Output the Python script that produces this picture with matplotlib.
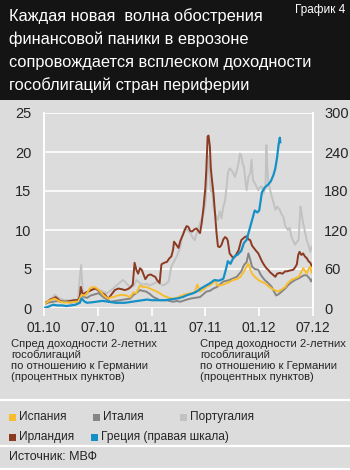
import matplotlib
matplotlib.use("Agg")
import matplotlib.pyplot as plt
from matplotlib.patches import Rectangle
from matplotlib.lines import Line2D

plt.rcParams['font.family'] = ['Liberation Sans', 'DejaVu Sans']

# months counted from January 2010
spain_m = [0, 0.4, 0.7, 1.2, 1.5, 1.8, 2.3, 2.9, 3.4, 3.8, 4.0, 4.2, 4.5, 4.8, 5.1, 5.5, 5.8, 6.1, 6.4, 6.6,
           6.9, 7.2, 7.5, 7.7, 8.2, 8.7, 9.2, 9.6, 10.0, 10.3, 10.7, 11.0, 11.4, 11.8, 12.2, 12.6, 12.9, 13.3,
           13.7, 14.0, 14.4, 14.8, 15.2, 15.6, 16.0, 16.3, 16.8, 17.1, 17.4, 17.8, 18.2, 18.5, 18.8, 19.1, 19.3,
           19.6, 20.0, 20.4, 20.8, 21.1, 21.5, 21.9, 22.2, 22.4, 22.6, 22.8, 23.0, 23.2, 23.5, 23.9, 24.2, 24.6,
           25.0, 25.4, 25.7, 26.1, 26.4, 26.9, 27.2, 27.6, 28.0, 28.4, 28.7, 28.9, 29.1, 29.3, 29.5, 29.7, 29.85, 30.0]
spain_v = [0.5, 0.8, 1.0, 1.2, 1.0, 0.8, 0.7, 0.7, 0.8, 0.8, 1.2, 1.7, 1.6, 1.9, 2.5, 2.7, 2.6, 2.3, 2.0, 1.7,
           1.4, 1.2, 1.4, 1.4, 1.6, 1.7, 1.6, 1.4, 2.0, 1.9, 2.9, 2.7, 2.7, 2.5, 2.3, 2.1, 1.9, 1.6,
           1.4, 1.3, 1.2, 1.3, 1.5, 1.7, 1.8, 1.9, 2.0, 3.0, 2.1, 2.4, 2.8, 2.9, 3.2, 3.6, 2.9,
           2.9, 3.0, 3.2, 3.4, 3.6, 3.7, 4.0, 4.5, 4.9, 5.3, 5.7, 5.0, 4.4, 4.0, 3.6, 3.4, 3.2,
           2.8, 2.5, 2.3, 2.1, 2.3, 2.7, 3.2, 3.6, 3.8, 4.0, 4.6, 5.1, 4.8, 4.4, 5.0, 5.3, 4.5, 4.7]

italy_m = [0, 0.5, 1.0, 1.5, 2.0, 2.5, 3.0, 3.5, 3.8, 4.0, 4.2, 4.5, 4.8, 5.2, 5.5, 5.8, 6.1, 6.4, 6.6, 7.0,
           7.4, 7.9, 8.5, 9.0, 9.6, 10.0, 10.3, 10.7, 11.0, 11.4, 11.8, 12.2, 12.6, 12.9, 13.3, 13.7, 14.0,
           14.4, 14.8, 15.2, 15.7, 16.3, 16.8, 17.4, 17.8, 18.1, 18.5, 18.9, 19.3, 19.6, 20.0, 20.4, 20.7,
           21.1, 21.5, 22.0, 22.3, 22.6, 22.8, 23.0, 23.2, 23.5, 23.9, 24.2, 24.6, 25.0, 25.4, 25.7, 25.9,
           26.2, 26.5, 26.9, 27.2, 27.6, 28.0, 28.4, 28.7, 29.0, 29.3, 29.6, 29.8, 30.0]
italy_v = [0.5, 0.7, 0.8, 0.9, 0.8, 0.8, 0.7, 0.8, 0.8, 1.2, 1.7, 1.4, 1.3, 1.6, 1.7, 1.8, 1.9, 1.6, 1.4, 1.1,
           0.8, 0.9, 1.0, 1.1, 1.2, 1.7, 1.9, 2.3, 2.2, 2.1, 1.8, 1.4, 1.2, 1.0, 1.0, 1.0, 0.9,
           0.8, 0.9, 0.8, 1.0, 1.2, 1.3, 1.4, 1.8, 2.1, 2.2, 2.5, 2.7, 3.0, 3.4, 3.5, 3.6,
           3.8, 4.0, 4.7, 5.5, 5.9, 7.0, 6.2, 5.3, 5.0, 4.9, 4.2, 3.6, 3.2, 2.7, 2.0, 1.6,
           1.8, 2.1, 2.5, 2.9, 3.3, 3.6, 3.8, 4.0, 4.2, 4.2, 3.8, 3.4, 3.9]

portugal_m = [0, 0.5, 1.0, 1.2, 1.5, 1.8, 2.3, 2.9, 3.4, 3.8, 4.0, 4.15, 4.3, 4.5, 4.8, 5.1, 5.5, 5.8, 6.2,
              6.6, 7.0, 7.4, 7.7, 8.1, 8.5, 8.8, 9.0, 9.3, 9.6, 10.0, 10.3, 10.7, 11.0, 11.4, 11.8, 12.2,
              12.6, 12.9, 13.3, 13.6, 13.9, 14.2, 14.6, 14.8, 15.0, 15.2, 15.4, 15.7, 16.0, 16.3, 16.6,
              16.8, 17.1, 17.4, 17.8, 18.0, 18.1, 18.3, 18.45, 18.6, 18.7, 18.9, 19.1, 19.4, 19.6, 19.8,
              20.0, 20.2, 20.4, 20.5, 20.7, 20.9, 21.1, 21.3, 21.5, 21.7, 21.85, 22.0, 22.15, 22.3, 22.45,
              22.6, 22.8, 23.0, 23.15, 23.3, 23.6, 23.9, 24.1, 24.3, 24.5, 24.7, 24.8, 24.9, 25.0, 25.2,
              25.4, 25.6, 25.8, 26.0, 26.3, 26.5, 26.7, 26.9, 27.2, 27.4, 27.6, 27.8, 28.0, 28.2, 28.4,
              28.5, 28.6, 28.75, 28.9, 29.1, 29.3, 29.5, 29.7, 29.85, 30.0]
portugal_v = [0.6, 0.9, 1.4, 1.7, 1.4, 1.2, 1.0, 1.0, 1.1, 1.0, 4.0, 5.5, 2.3, 2.0, 1.7, 2.2, 2.7, 2.5, 2.3,
              2.1, 1.9, 2.2, 2.5, 2.9, 3.3, 3.6, 3.4, 3.0, 2.7, 2.8, 3.6, 3.2, 3.0, 3.1, 2.9, 3.1,
              3.4, 3.1, 2.9, 3.1, 3.4, 5.3, 6.2, 6.6, 7.2, 7.8, 9.1, 10.2, 10.0, 9.6, 9.0,
              8.7, 9.8, 10.9, 12.1, 13.5, 15.1, 19.5, 17.5, 15.0, 16.4, 13.0, 12.0, 11.3, 12.4, 11.5,
              13.0, 13.8, 16.0, 17.3, 17.9, 17.7, 17.3, 16.8, 17.6, 18.6, 19.8, 19.6, 18.5, 18.1, 16.5,
              15.1, 16.8, 17.3, 19.0, 16.4, 15.8, 15.1, 15.5, 15.6, 14.7, 15.5, 20.9, 18.0, 16.4, 15.2,
              14.3, 13.5, 12.6, 13.0, 12.6, 12.0, 11.7, 10.5, 10.0, 10.3, 9.1, 8.6, 8.1, 8.5, 8.7,
              11.0, 13.0, 12.0, 10.9, 9.8, 8.7, 8.0, 7.2, 7.9, 7.7]

ireland_m = [0, 0.4, 0.7, 1.0, 1.3, 1.6, 1.8, 2.3, 2.9, 3.4, 3.8, 4.0, 4.1, 4.25, 4.4, 4.7, 4.9, 5.3, 5.7,
             6.0, 6.2, 6.5, 6.8, 7.0, 7.2, 7.5, 7.9, 8.3, 8.7, 9.0, 9.3, 9.6, 9.9, 10.1, 10.3, 10.5, 10.7,
             10.9, 11.1, 11.3, 11.6, 11.9, 12.2, 12.4, 12.6, 12.9, 13.0, 13.1, 13.4, 13.7, 14.0, 14.2, 14.4,
             14.5, 14.7, 15.0, 15.2, 15.5, 15.7, 15.9, 16.1, 16.3, 16.5, 16.8, 17.0, 17.2, 17.4, 17.6, 17.8,
             18.0, 18.1, 18.25, 18.35, 18.5, 18.6, 18.7, 18.9, 19.1, 19.25, 19.4, 19.6, 19.8, 20.0, 20.2,
             20.4, 20.5, 20.7, 20.9, 21.1, 21.3, 21.5, 21.7, 21.9, 22.0, 22.2, 22.4, 22.6, 22.8, 23.0,
             23.2, 23.4, 23.6, 23.9, 24.1, 24.3, 24.5, 24.8, 25.0, 25.2, 25.5, 25.8, 26.0, 26.3, 26.6,
             26.9, 27.1, 27.4, 27.8, 28.0, 28.2, 28.35, 28.5, 28.7, 28.9, 29.1, 29.3, 29.5, 29.7, 29.85]
ireland_v = [0.6, 0.8, 1.1, 1.2, 1.4, 1.1, 0.9, 0.8, 0.9, 1.0, 1.0, 1.5, 2.7, 2.0, 1.7, 2.0, 2.1, 2.3, 2.5,
             2.3, 2.1, 1.9, 1.7, 1.4, 1.2, 1.7, 2.3, 2.5, 2.4, 2.3, 2.4, 2.6, 3.0, 5.8, 4.9, 4.4, 5.1,
             4.9, 4.3, 3.7, 4.2, 4.3, 4.1, 4.0, 3.6, 3.2, 4.5, 5.6, 5.8, 5.9, 6.4, 6.6, 7.5,
             8.5, 8.2, 7.7, 8.6, 9.4, 10.0, 10.5, 10.4, 9.9, 9.8, 10.1, 10.2, 9.9, 9.6, 11.0, 13.0,
             15.5, 17.7, 22.0, 22.1, 20.7, 18.0, 16.8, 14.7, 11.7, 9.5, 7.9, 7.8, 8.1, 8.8, 9.1,
             8.9, 8.6, 7.0, 6.7, 6.4, 6.6, 7.0, 7.4, 8.3, 8.7, 8.9, 9.1, 9.2, 8.8, 8.7,
             8.0, 7.7, 7.4, 7.0, 6.5, 6.0, 5.6, 5.1, 4.9, 4.6, 4.3, 4.0, 4.4, 4.5, 4.4,
             4.7, 4.7, 4.8, 4.9, 5.2, 5.6, 6.8, 7.2, 6.8, 7.0, 6.6, 6.4, 6.0, 5.8, 5.4]

# Greece is plotted against the right-hand scale
greece_m = [0, 0.5, 1.0, 1.5, 2.0, 2.5, 3.0, 3.5, 4.0, 4.2, 4.5, 4.8, 5.5, 6.0, 6.5, 7.0, 7.5, 8.0, 8.5, 9.0,
            9.5, 10.0, 10.5, 11.0, 11.5, 12.0, 12.5, 13.0, 13.5, 14.0, 14.5, 15.0, 15.5, 16.0, 16.5, 17.0,
            17.5, 18.0, 18.5, 19.0, 19.5, 20.0, 20.3, 20.5, 20.8, 21.0, 21.3, 21.6, 22.0, 22.3, 22.6, 23.0,
            23.3, 23.5, 23.8, 24.0, 24.3, 24.6, 25.0, 25.3, 25.6, 25.8, 26.0, 26.15, 26.3, 26.35]
greece_v = [0, 2, 5, 4, 4, 3, 4, 5, 8, 15, 10, 8, 9, 10, 11, 10, 9, 8, 8, 8,
            9, 10, 11, 12, 13, 12, 12, 12, 12, 13, 14, 15, 17, 20, 22, 25,
            30, 34, 38, 43, 42, 45, 60, 72, 68, 74, 80, 82, 88, 100, 105, 125,
            140, 150, 147, 150, 178, 185, 190, 195, 205, 215, 232, 250, 262, 255]

left_ticks = [0, 5, 10, 15, 20, 25]
right_ticks = [0, 60, 120, 180, 240, 300]
x_ticks = [0, 6, 12, 18, 24, 30]
x_labels = ['01.10', '07.10', '01.11', '07.11', '01.12', '07.12']

c_spain = '#f8bd2f'
c_italy = '#858585'
c_portugal = '#c2c2c2'
c_ireland = '#8c3a22'
c_greece = '#1590c6'
bg = '#dcdcdc'
txt = '#262626'

W, H = 350, 470
fig = plt.figure(figsize=(W / 100, H / 100), dpi=100)
fig.patch.set_facecolor(bg)


def px(x, y):
    return x / W, 1 - y / H


# black title band and white separators
fig.patches.append(Rectangle((0, 1 - 100 / H), 1, 100 / H, transform=fig.transFigure,
                             facecolor='#141414', edgecolor='none', zorder=0))
for yy in [400, 446, 469]:
    fig.add_artist(Line2D([0, 1], [1 - yy / H] * 2, color='white', lw=1.6))

title_lines = ['Каждая новая  волна обострения', 'финансовой паники в еврозоне',
               'сопровождается всплеском доходности', 'гособлигаций стран периферии']
for i, line in enumerate(title_lines):
    fig.text(*px(9, 16 + i * 23), line, color='white', fontsize=11.8, va='center', ha='left')
fig.text(*px(345, 10), 'График 4', color='white', fontsize=8.5, va='center', ha='right')

left, right, top, bottom = 44, 313, 113, 308
ax = fig.add_axes([left / W, 1 - bottom / H, (right - left) / W, (bottom - top) / H])
ax.set_facecolor(bg)
ax.set_xlim(0, 30)
ax.set_ylim(0, 25)

lw = 1.4
ax.plot(portugal_m, portugal_v, color=c_portugal, lw=lw, zorder=3)
ax.plot(ireland_m, ireland_v, color=c_ireland, lw=lw, zorder=4)
ax.plot(italy_m, italy_v, color=c_italy, lw=lw, zorder=5)
ax.plot(spain_m, spain_v, color=c_spain, lw=lw, zorder=6)

ax2 = ax.twinx()
ax2.set_ylim(0, 300)
ax2.plot(greece_m, greece_v, color=c_greece, lw=lw + 0.2, zorder=7)

ax.set_yticks(left_ticks)
ax.yaxis.grid(True, color='white', lw=1.2)
ax.set_axisbelow(True)
ax.set_xticks(x_ticks)
ax.set_xticklabels(x_labels)
ax2.set_yticks(right_ticks)

for a in (ax, ax2):
    for s in ('top', 'bottom'):
        a.spines[s].set_visible(False)
    a.spines['left'].set_color('white')
    a.spines['right'].set_color('white')
    a.spines['left'].set_linewidth(1.4)
    a.spines['right'].set_linewidth(1.4)
ax.tick_params(axis='x', length=6, width=1.2, color='white', pad=3, labelsize=10, labelcolor=txt)
ax.tick_params(axis='y', length=0, pad=9, labelsize=10.5, labelcolor=txt)
ax2.tick_params(axis='y', length=0, pad=8, labelsize=10.5, labelcolor=txt)

sub = 'Спред доходности 2-летних\nгособлигаций\nпо отношению к Германии\n(процентных пунктов)'
fig.text(*px(11, 339), sub, fontsize=8.1, color=txt, va='top', ha='left', linespacing=1.12)
fig.text(*px(200, 339), sub, fontsize=8.1, color=txt, va='top', ha='left', linespacing=1.12)

legend_items = [('Испания', c_spain, 9, 417), ('Италия', c_italy, 93, 417),
                ('Португалия', c_portugal, 180, 417), ('Ирландия', c_ireland, 9, 437),
                ('Греция (правая шкала)', c_greece, 91, 437)]
for name, col, x0, y0 in legend_items:
    fig.patches.append(Rectangle(px(x0, y0 + 3.5), 7 / W, 7 / H, transform=fig.transFigure,
                                 facecolor=col, edgecolor='none'))
    fig.text(*px(x0 + 10, y0), name, fontsize=8.6, color=txt, va='center', ha='left')

fig.text(*px(9, 457), 'Источник: МВФ', fontsize=9, color=txt, va='center', ha='left')

fig.savefig('out.png', dpi=100, facecolor=fig.get_facecolor())
